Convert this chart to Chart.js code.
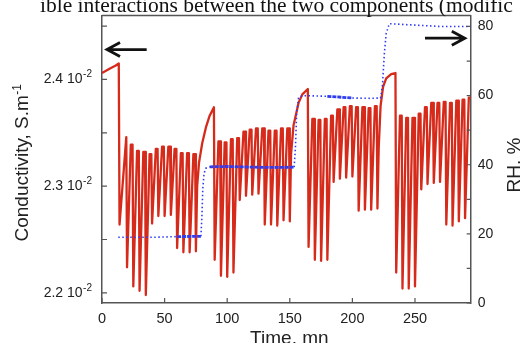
<!DOCTYPE html>
<html>
<head>
<meta charset="utf-8">
<script src="https://cdn.jsdelivr.net/npm/chart.js@4"></script>
<style>
  html, body { margin: 0; padding: 0; background: #fff; overflow: hidden; }
  #wrap { position: relative; width: 520px; height: 343px; overflow: hidden; }
  #wrap canvas { position: absolute; left: 0; top: 0; }
  #cutText { position: absolute; left: 40px; top: -5px; font: 21.5px "Liberation Serif", "Times New Roman", serif;
             line-height: 1; color: #111; white-space: nowrap; }
</style>
</head>
<body>
<div id="wrap">
  <canvas id="condChart" width="520" height="343"></canvas>
  <div id="cutText">ible interactions between the two components (modific</div>
</div>
<script>
Chart.defaults.font.family = '"Liberation Sans", Arial, sans-serif';
Chart.defaults.color = '#222';

// conductivity, in units of 1e-2 S/m
// each humidity pulse: top of the tooth just before the drop, and the bottom of the drop
const dropTimes = [14, 20, 25, 30, 35, 40, 45, 50, 55, 60, 65, 70, 75,
  90, 95, 100, 105, 110, 115, 120, 125, 130, 135, 140, 145, 150,
  165, 170, 175, 180, 185, 190, 195, 200, 205, 210, 215, 220,
  235, 240, 245, 250, 255, 260, 265, 270, 275, 280, 285, 290];
const peakBefore = [2.415, 2.346, 2.339, 2.333, 2.332, 2.330, 2.335, 2.337, 2.337, 2.335, 2.331, 2.331, 2.330,
  2.374, 2.342, 2.341, 2.344, 2.345, 2.351, 2.353, 2.354, 2.354, 2.352, 2.352, 2.354, 2.354,
  2.391, 2.363, 2.362, 2.363, 2.366, 2.372, 2.374, 2.375, 2.374, 2.374, 2.373, 2.375,
  2.406, 2.366, 2.364, 2.364, 2.368, 2.374, 2.378, 2.378, 2.379, 2.378, 2.380, 2.381];
const troughAfter = [2.264, 2.224, 2.206, 2.202, 2.198, 2.265, 2.272, 2.272, 2.273, 2.242, 2.238, 2.238, 2.239,
  2.231, 2.216, 2.215, 2.219, 2.287, 2.291, 2.292, 2.293, 2.264, 2.264, 2.263, 2.268, 2.267,
  2.243, 2.231, 2.230, 2.231, 2.304, 2.307, 2.308, 2.309, 2.277, 2.278, 2.278, 2.279,
  2.219, 2.204, 2.204, 2.206, 2.297, 2.302, 2.303, 2.304, 2.264, 2.263, 2.267, 2.270];
// start of the trace, slow recoveries after each RH step, end of the trace
const riseTimes = [0, 6, 11, 76, 77.5, 80, 83, 86, 151, 153, 157, 160, 221, 222.5, 224.5, 227, 231, 293, 294.5];
const riseValues = [2.406, 2.410, 2.413, 2.300, 2.322, 2.340, 2.355, 2.366, 2.330, 2.357, 2.378, 2.386,
  2.335, 2.375, 2.393, 2.401, 2.405, 2.383, 2.383];

// relative humidity, %
const rhTimes = [13, 40, 60, 79, 79.8, 80.5, 81.5, 83, 86, 100, 120, 140, 153.5, 154.5, 155.5, 157, 160,
  180, 200, 215, 222.5, 224, 225.5, 227, 229.5, 250, 270, 294.5];
const rhValues = [19, 19, 19.2, 19.3, 25, 33, 37.5, 39, 39.4, 39.5, 39.3, 39.2, 39.3, 45, 55, 59.3, 60,
  59.8, 59.3, 59.2, 59.3, 63, 72, 78, 80.8, 80.4, 80, 80];
// stretches where the RH markers are packed into a solid-looking line
const rhDense = [[58, 79.5], [84, 154], [179, 201]];

const xTickValues = [0, 50, 100, 150, 200, 250];
const condTickValues = [2.2, 2.3, 2.4];
const condMinorTicks = [2.25, 2.35, 2.45];
const rhTickValues = [0, 20, 40, 60, 80];
const rhMinorTicks = [10, 30, 50, 70];

// a tooth climbs steeply to its top, stays there briefly, then falls straight down
const condPoints = [];
riseTimes.forEach((t, i) => condPoints.push({x: t, y: riseValues[i]}));
dropTimes.forEach((t, i) => {
    if (i > 0 && t - dropTimes[i - 1] === 5) {
        condPoints.push({x: dropTimes[i - 1] + 3, y: peakBefore[i]});
    }
    condPoints.push({x: t - 0.6, y: peakBefore[i]});
    condPoints.push({x: t, y: troughAfter[i]});
});
condPoints.sort((a, b) => a.x - b.x);

const rhPoints = rhTimes.map((t, i) => ({x: t, y: rhValues[i]}));
const inDense = (x) => rhDense.some(([a, b]) => x >= a && x <= b);
const denseSeg = (c) => inDense(c.p0.parsed.x) && inDense(c.p1.parsed.x);

// frame top, inward ticks, superscript labels, rotated titles, arrows
const decorations = {
    id: 'decorations',
    afterDraw(chart) {
        const {ctx, chartArea: a} = chart;
        const xs = chart.scales.x, yL = chart.scales.y, yR = chart.scales.yR;
        const fam = '"Liberation Sans", Arial, sans-serif';
        ctx.save();
        ctx.strokeStyle = '#555';
        ctx.lineWidth = 1.5;
        ctx.beginPath();
        ctx.moveTo(a.left, a.top);
        ctx.lineTo(a.right, a.top);
        ctx.stroke();

        ctx.lineWidth = 1.2;
        ctx.beginPath();
        xTickValues.forEach(v => {
            const px = xs.getPixelForValue(v);
            ctx.moveTo(px, a.bottom);
            ctx.lineTo(px, a.bottom - 5);
        });
        condTickValues.concat(condMinorTicks).forEach(v => {
            const py = yL.getPixelForValue(v);
            ctx.moveTo(a.left, py);
            ctx.lineTo(a.left + 5, py);
        });
        rhTickValues.concat(rhMinorTicks).forEach(v => {
            const py = yR.getPixelForValue(v);
            ctx.moveTo(a.right, py);
            ctx.lineTo(a.right - 4, py);
        });
        ctx.stroke();

        // left tick labels like "2.4 10-2"
        ctx.fillStyle = '#222';
        ctx.textBaseline = 'middle';
        ctx.textAlign = 'right';
        condTickValues.forEach(v => {
            const py = yL.getPixelForValue(v);
            ctx.font = '10px ' + fam;
            ctx.fillText('-2', a.left - 10, py - 5);
            const w = ctx.measureText('-2').width;
            ctx.font = '14px ' + fam;
            ctx.fillText(v.toFixed(1) + ' 10', a.left - 10 - w - 0.5, py);
        });

        // axis titles
        ctx.textBaseline = 'alphabetic';
        ctx.textAlign = 'left';
        ctx.save();
        ctx.translate(28, 163);
        ctx.rotate(-Math.PI / 2);
        ctx.font = '19px ' + fam;
        const mainW = ctx.measureText('Conductivity, S.m').width;
        ctx.font = '12px ' + fam;
        const supW = ctx.measureText('-1').width;
        const start = -(mainW + supW) / 2;
        ctx.font = '19px ' + fam;
        ctx.fillText('Conductivity, S.m', start, 0);
        ctx.font = '12px ' + fam;
        ctx.fillText('-1', start + mainW + 0.5, -7);
        ctx.restore();

        ctx.save();
        ctx.translate(520, 165);
        ctx.rotate(-Math.PI / 2);
        ctx.font = '19px ' + fam;
        ctx.textAlign = 'center';
        ctx.fillText('RH, %', 0, 0);
        ctx.restore();

        ctx.font = '19px ' + fam;
        ctx.textAlign = 'center';
        ctx.fillText('Time, mn', (a.left + a.right) / 2 + 3, 343.5);

        // arrows pointing to the axis each curve belongs to
        const arrow = (x0, x1, y) => {
            const dir = Math.sign(x1 - x0);
            ctx.beginPath();
            ctx.moveTo(x0, y);
            ctx.lineTo(x1, y);
            ctx.moveTo(x1 - dir * 13, y - 7);
            ctx.lineTo(x1, y);
            ctx.lineTo(x1 - dir * 13, y + 7);
            ctx.stroke();
        };
        ctx.strokeStyle = '#111';
        ctx.lineWidth = 2.8;
        ctx.lineJoin = 'miter';
        arrow(xs.getPixelForValue(35.7), xs.getPixelForValue(4), yL.getPixelForValue(2.428));
        arrow(xs.getPixelForValue(258), xs.getPixelForValue(289.8), yR.getPixelForValue(76.6));
        ctx.restore();
    }
};

const axisBorder = {display: true, color: '#555', width: 1.5};
const noGrid = {drawOnChartArea: false, drawTicks: false};

new Chart(document.getElementById('condChart').getContext('2d'), {
    type: 'line',
    data: {
        datasets: [{
            label: 'RH',
            data: rhPoints,
            yAxisID: 'yR',
            order: 0,
            borderColor: '#2f3cf2',
            borderWidth: 1.6,
            borderDash: [1.5, 2.5],
            pointRadius: 0,
            segment: {
                borderWidth: c => denseSeg(c) ? 2.8 : undefined,
                borderDash: c => denseSeg(c) ? [4, 1] : undefined
            }
        }, {
            label: 'Conductivity',
            data: condPoints,
            yAxisID: 'y',
            order: 1,
            borderColor: '#d62a1b',
            borderWidth: 2.3,
            borderJoinStyle: 'round',
            pointRadius: 0,
            tension: 0
        }]
    },
    options: {
        responsive: false,
        animation: false,
        layout: {padding: {top: 12, left: 0, right: 0, bottom: 0}},
        plugins: {legend: {display: false}, tooltip: {enabled: false}},
        scales: {
            x: {
                type: 'linear',
                min: 0,
                max: 294.5,
                afterBuildTicks: s => { s.ticks = xTickValues.map(v => ({value: v})); },
                afterFit: s => { s.height = 40; },
                grid: noGrid,
                border: axisBorder,
                ticks: {padding: 7, maxRotation: 0, font: {size: 14.5}}
            },
            y: {
                type: 'linear',
                position: 'left',
                min: 2.1905,
                max: 2.46,
                afterFit: s => { s.width = 102; },
                grid: noGrid,
                border: axisBorder,
                ticks: {display: false}
            },
            yR: {
                type: 'linear',
                position: 'right',
                min: 0,
                max: 83.2,
                afterBuildTicks: s => { s.ticks = rhTickValues.map(v => ({value: v})); },
                afterFit: s => { s.width = 49.3; },
                grid: noGrid,
                border: axisBorder,
                ticks: {padding: 7, font: {size: 14}}
            }
        }
    },
    plugins: [decorations]
});
</script>
</body>
</html>
